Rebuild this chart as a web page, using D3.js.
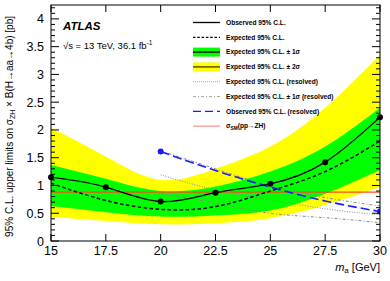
<!DOCTYPE html>
<html>
<head>
<meta charset="utf-8">
<script src="https://cdn.jsdelivr.net/npm/d3@7"></script>
<style>
  body { margin: 0; background: #fff; }
  text { font-family: "Liberation Sans", Arial, sans-serif; }
</style>
</head>
<body>
<div id="chart"></div>
<script>
// mass points [GeV]
const masses = [15, 17.5, 20, 22.5, 25, 27.5, 30];
const observed = [1.15, 0.97, 0.71, 0.87, 1.03, 1.42, 2.23];
const expected = [1.04, 0.73, 0.57, 0.62, 0.90, 1.25, 1.80];
const band1Lo = [0.63, 0.52, 0.44, 0.46, 0.55, 0.85, 1.28];
const band1Hi = [1.37, 1.12, 0.90, 0.98, 1.25, 1.70, 2.40];
const band2Lo = [0.43, 0.36, 0.30, 0.32, 0.41, 0.65, 0.97];
const band2Hi = [2.04, 1.52, 1.10, 1.30, 1.70, 2.40, 3.35];

// resolved analysis
const resMasses = [20, 22.5, 25, 27.5, 30];
const resObserved = [1.61, 1.27, 0.97, 0.72, 0.53];
const resExpected = [1.19, 0.92, 0.74, 0.58, 0.47];
const resExp1Hi = [1.62, 1.30, 0.99, 0.78, 0.63];
const resExp1Lo = [0.86, 0.68, 0.50, 0.42, 0.33];

const sigmaSM = 0.88;

const xTicks = [15, 17.5, 20, 22.5, 25, 27.5, 30];
const yTicks = [0, 0.5, 1, 1.5, 2, 2.5, 3, 3.5, 4];

const legendLabels = [
  "Observed 95% C.L.",
  "Expected 95% C.L.",
  "Expected 95% C.L. \u00b1 1\u03c3",
  "Expected 95% C.L. \u00b1 2\u03c3",
  "Expected 95% C.L. (resolved)",
  "Expected 95% C.L. \u00b1 1\u03c3 (resolved)",
  "Observed 95% C.L. (resolved)",
  "SM"
];

const W = 390, H = 281;
const x0 = 51, x1 = 380, yTop = 5, yBot = 241;

const svg = d3.select('#chart').append('svg')
  .attr('width', W).attr('height', H);

const x = d3.scaleLinear().domain([15, 30]).range([x0, x1]);
const y = d3.scaleLinear().domain([0, 4.25]).range([yBot, yTop]);

svg.append('clipPath').attr('id', 'frame')
  .append('rect').attr('x', x0).attr('y', yTop).attr('width', x1 - x0).attr('height', yBot - yTop);

const plot = svg.append('g').attr('clip-path', 'url(#frame)');

const curve = d3.curveNatural;
const band = (lo, hi) => d3.area().curve(curve)
  .x((d, i) => x(masses[i])).y0((d, i) => y(lo[i])).y1((d, i) => y(hi[i]));

plot.append('path').datum(masses).attr('d', band(band2Lo, band2Hi)).attr('fill', '#ffff00');
plot.append('path').datum(masses).attr('d', band(band1Lo, band1Hi)).attr('fill', '#00ff00');

const line = (xs, vals, c) => d3.line().curve(c || curve)
  .x((d, i) => x(xs[i])).y((d, i) => y(vals[i]))(vals);

// sigma SM
plot.append('line').attr('x1', x(15)).attr('x2', x(30))
  .attr('y1', y(sigmaSM)).attr('y2', y(sigmaSM))
  .attr('stroke', '#f2501e').attr('stroke-width', 1.2);

// resolved lines
plot.append('path').attr('d', line(resMasses, resExpected))
  .attr('fill', 'none').attr('stroke', '#8c8c8c').attr('stroke-width', 1)
  .attr('stroke-dasharray', '1,1.5');
[resExp1Hi, resExp1Lo].forEach(v => {
  plot.append('path').attr('d', line(resMasses, v))
    .attr('fill', 'none').attr('stroke', '#8c8c8c').attr('stroke-width', 1)
    .attr('stroke-dasharray', '3,2,1,2');
});
plot.append('path').attr('d', line(resMasses, resObserved))
  .attr('fill', 'none').attr('stroke', '#1a1aff').attr('stroke-width', 1.6)
  .attr('stroke-dasharray', '9,4');
plot.selectAll('.resdot').data([0, resMasses.length - 1]).enter().append('circle')
  .attr('cx', i => x(resMasses[i])).attr('cy', i => y(resObserved[i]))
  .attr('r', 3).attr('fill', '#1a1aff');

// boosted lines
plot.append('path').attr('d', line(masses, expected))
  .attr('fill', 'none').attr('stroke', '#000').attr('stroke-width', 1.5)
  .attr('stroke-dasharray', '3.5,2.5');
plot.append('path').attr('d', line(masses, observed))
  .attr('fill', 'none').attr('stroke', '#000').attr('stroke-width', 1.3);

svg.append('g').selectAll('circle').data(masses).enter().append('circle')
  .attr('cx', d => x(d)).attr('cy', (d, i) => y(observed[i]))
  .attr('r', 3).attr('fill', '#000');

// axes and frame
svg.append('rect').attr('x', x0).attr('y', yTop).attr('width', x1 - x0).attr('height', yBot - yTop)
  .attr('fill', 'none').attr('stroke', '#000').attr('stroke-width', 1);

const yMinor = d3.range(0, 4.25, 0.1).filter(v => Math.abs(v * 2 - Math.round(v * 2)) > 1e-6);
const axG = svg.append('g').attr('stroke', '#000').attr('stroke-width', 1);
yTicks.forEach(v => {
  axG.append('line').attr('x1', x0).attr('x2', x0 + 8).attr('y1', y(v)).attr('y2', y(v));
  axG.append('line').attr('x1', x1).attr('x2', x1 - 8).attr('y1', y(v)).attr('y2', y(v));
});
yMinor.forEach(v => {
  axG.append('line').attr('x1', x0).attr('x2', x0 + 4).attr('y1', y(v)).attr('y2', y(v));
  axG.append('line').attr('x1', x1).attr('x2', x1 - 4).attr('y1', y(v)).attr('y2', y(v));
});
xTicks.forEach(v => {
  axG.append('line').attr('x1', x(v)).attr('x2', x(v)).attr('y1', yBot).attr('y2', yBot - 7);
  axG.append('line').attr('x1', x(v)).attr('x2', x(v)).attr('y1', yTop).attr('y2', yTop + 7);
});

svg.append('g').selectAll('text').data(yTicks).enter().append('text')
  .attr('x', x0 - 7).attr('y', d => y(d) + 4.5)
  .attr('text-anchor', 'end').attr('font-size', 12.5)
  .text(d => d);

svg.append('g').selectAll('text').data(xTicks).enter().append('text')
  .attr('x', d => x(d)).attr('y', yBot + 14)
  .attr('text-anchor', 'middle').attr('font-size', 12.5)
  .text(d => d);

// axis titles
const xt = svg.append('text').attr('x', x1).attr('y', 271)
  .attr('text-anchor', 'end').attr('font-size', 11);
xt.append('tspan').attr('font-style', 'italic').text('m');
xt.append('tspan').attr('font-size', 8).attr('dy', 2).text('a');
xt.append('tspan').attr('dy', -2).text(' [GeV]');

const yt = svg.append('text').attr('transform', 'translate(13,16) rotate(-90)')
  .attr('text-anchor', 'end').attr('font-size', 10);
yt.append('tspan').text('95% C.L. upper limits on \u03c3');
yt.append('tspan').attr('font-size', 7).attr('dy', 2).text('ZH');
yt.append('tspan').attr('dy', -2).text(' \u00d7 B(H\u2192aa\u21924b) [pb]');

// labels
svg.append('text').attr('x', 63).attr('y', 30)
  .attr('font-size', 11.5).attr('font-weight', 'bold').attr('font-style', 'italic')
  .text('ATLAS');
const en = svg.append('text').attr('x', 63).attr('y', 49).attr('font-size', 9.5);
en.append('tspan').text('\u221as = 13 TeV, 36.1 fb');
en.append('tspan').attr('font-size', 6.5).attr('dy', -4).text('-1');

// legend
const lg = svg.append('g');
const lx0 = 193, lx1 = 220, ltx = 226;
const rowY = i => 22.5 + i * 14.8;
legendLabels.forEach((lab, i) => {
  const t = lg.append('text').attr('x', ltx).attr('y', rowY(i) + 2.3)
    .attr('font-size', 6.6).attr('font-weight', 'bold');
  if (lab === 'SM') {
    t.append('tspan').text('\u03c3');
    t.append('tspan').attr('font-size', 4.8).attr('dy', 1.5).text('SM');
    t.append('tspan').attr('dy', -1.5).text('(pp\u2192ZH)');
  } else {
    t.text(lab);
  }
});
const seg = (i) => lg.append('line').attr('x1', lx0).attr('x2', lx1).attr('y1', rowY(i)).attr('y2', rowY(i));
seg(0).attr('stroke', '#000').attr('stroke-width', 1.3);
seg(1).attr('stroke', '#000').attr('stroke-width', 1.3).attr('stroke-dasharray', '2.5,1.8');
lg.append('rect').attr('x', lx0).attr('y', rowY(2) - 4.5).attr('width', lx1 - lx0).attr('height', 9).attr('fill', '#00ff00');
seg(2).attr('stroke', '#000').attr('stroke-width', 1.3);
lg.append('rect').attr('x', lx0).attr('y', rowY(3) - 4.5).attr('width', lx1 - lx0).attr('height', 9).attr('fill', '#ffff00');
seg(3).attr('stroke', '#3c3c00').attr('stroke-width', 1.3);
seg(4).attr('stroke', '#aaa').attr('stroke-width', 1).attr('stroke-dasharray', '1,1');
seg(5).attr('stroke', '#aaa').attr('stroke-width', 1).attr('stroke-dasharray', '3,2,1,2');
seg(6).attr('stroke', '#1a1aff').attr('stroke-width', 1.3).attr('stroke-dasharray', '8,4');
seg(7).attr('stroke', '#ff7070').attr('stroke-width', 1);
</script>
</body>
</html>
